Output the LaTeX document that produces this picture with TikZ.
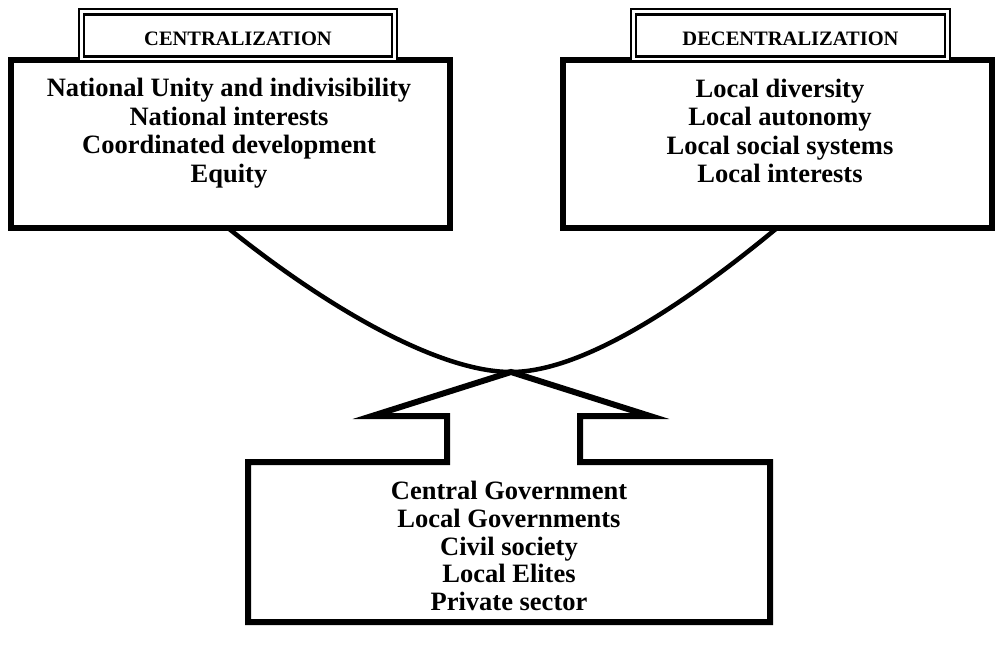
\documentclass[tikz,border=0pt]{standalone}
\usepackage{fontspec}
\setmainfont{Liberation Serif}
\begin{document}
\begin{tikzpicture}[x=1pt,y=-1pt,
  mainbox/.style={draw=black,line width=6pt,fill=white,inner sep=0pt,rectangle},
  titleout/.style={draw=black,line width=1.6pt,fill=white,inner sep=0pt,rectangle},
  titlein/.style={draw=black,line width=2.4pt,inner sep=0pt,rectangle},
  maintext/.style={align=center,inner sep=0pt,font=\fontsize{26.5}{28.5}\selectfont\bfseries},
  bottext/.style={align=center,inner sep=0pt,font=\fontsize{26.5}{27.6}\selectfont\bfseries},
  titletext/.style={inner sep=0pt,font=\fontsize{20.5}{22}\selectfont\bfseries},
  link/.style={draw=black,line width=4.5pt},
  callout/.style={draw=black,line width=6pt,line join=miter,miter limit=12}]
\useasboundingbox (0,0) rectangle (996,646);
% left box
\node[mainbox,minimum width=439pt,minimum height=168pt] (lbox) at (230.5,144) {};
\node[titleout,minimum width=318pt,minimum height=52pt] (ltout) at (238,35) {};
\node[titlein,minimum width=308pt,minimum height=42pt] (ltin) at (238,35.5) {};
\node[titletext] (ltitle) at (238,39) {CENTRALIZATION};
\node[maintext] (ltext) at (229,133) {National Unity and indivisibility\\National interests\\Coordinated development\\Equity};
% right box
\node[mainbox,minimum width=429pt,minimum height=168pt] (rbox) at (777.5,144) {};
\node[titleout,minimum width=319pt,minimum height=52pt] (rtout) at (790.5,35) {};
\node[titlein,minimum width=309pt,minimum height=42pt] (rtin) at (790.5,35.5) {};
\node[titletext] (rtitle) at (790.5,39) {DECENTRALIZATION};
\node[maintext] (rtext) at (780,131) {Local diversity\\Local autonomy\\Local social systems\\Local interests};
% connectors
\coordinate (cs) at (228,228);
\coordinate (apex) at (511,372);
\coordinate (ce) at (777,228);
\draw[link] (cs) .. controls (330,310) and (440,372) .. (apex);
\draw[link] (apex) .. controls (585,372) and (690,300) .. (ce);
% bottom callout
\draw[callout] (248,462) -- (447,462) -- (447,416) -- (372,416) -- (apex) -- (650,416) -- (580,416) -- (580,462) -- (770,462) -- (770,622) -- (248,622) -- cycle;
\node[bottext] (btext) at (509,546) {Central Government\\Local Governments\\Civil society\\Local Elites\\Private sector};
\end{tikzpicture}
\end{document}
